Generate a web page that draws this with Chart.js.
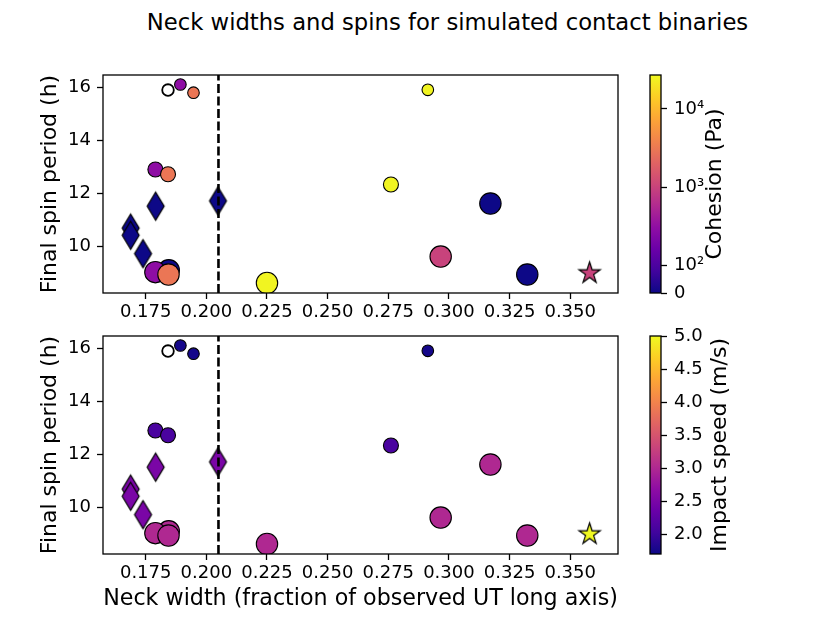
<!DOCTYPE html>
<html>
<head>
<meta charset="utf-8">
<title>Neck widths and spins</title>
<script src="https://cdn.jsdelivr.net/npm/chart.js@4.4.1/dist/chart.umd.min.js"></script>
<style>
  body { margin: 0; background: #fff; }
  #wrap { position: relative; width: 830px; height: 623px; font-family: 'DejaVu Sans', sans-serif; color: #000; }
  #wrap canvas { position: absolute; left: 0; top: 0; }
  .txt { position: absolute; white-space: nowrap; text-align: center; font-size: 22px; line-height: 26px; height: 26px; }
  .cblabel { width: 218px; transform: rotate(-90deg); }
</style>
</head>
<body>
<div id="wrap">
  <div class="txt" style="left:0;width:895px;top:9px;font-size:22.7px">Neck widths and spins for simulated contact binaries</div>
  <canvas id="topChart" width="830" height="623"></canvas>
  <canvas id="bottomChart" width="830" height="623"></canvas>
  <canvas id="cohesionBar" width="830" height="623"></canvas>
  <canvas id="speedBar" width="830" height="623"></canvas>
  <div class="txt cblabel" style="left:605px;top:171px">Cohesion (Pa)</div>
  <div class="txt cblabel" style="left:610px;top:432px">Impact speed (m/s)</div>
</div>
<script>
// simulated runs, same order in both panels
const neckWidth = [0.1842, 0.1893, 0.1947, 0.179, 0.1842, 0.1791, 0.2048, 0.1688, 0.1688, 0.1739,
  0.1845, 0.179, 0.1844, 0.225, 0.2913, 0.2761, 0.3171, 0.2966, 0.3323, 0.358];
const spinPeriod = [15.91, 16.12, 15.81, 12.9, 12.72, 11.51, 11.71, 10.68, 10.41, 9.71,
  9.08, 9.01, 8.92, 8.6, 15.92, 12.33, 11.61, 9.6, 8.92, 9.01];
const cohesion = [null, 300, 3000, 300, 3000, 0, 0, 0, 0, 0,
  0, 300, 3000, 25000, 25000, 25000, 0, 1000, 0, 1000];
const impactSpeed = [null, 1.75, 1.75, 2.1, 2.1, 2.5, 2.5, 2.5, 2.5, 2.5,
  3.0, 3.0, 3.0, 3.0, 1.75, 2.1, 3.0, 3.0, 3.0, 5.0];
const markerType = ["circle", "circle", "circle", "circle", "circle", "diamond", "diamond", "diamond", "diamond", "diamond",
  "circle", "circle", "circle", "circle", "circle", "circle", "circle", "circle", "circle", "star"];
const sizeClass = ["small", "small", "small", "medium", "medium", "large", "large", "large", "large", "large",
  "large", "large", "large", "large", "small", "medium", "large", "large", "large", "large"];

const neckLimit = 0.205;
const xTicks = [0.175, 0.2, 0.225, 0.25, 0.275, 0.3, 0.325, 0.35];
const yTicks = [10, 12, 14, 16];
const cohesionTicks = [0, 100, 1000, 10000];
const speedTicks = [2.0, 2.5, 3.0, 3.5, 4.0, 4.5, 5.0];
const xRange = [0.1574, 0.3697];
const yRange = [8.22, 16.48];
const cohesionRange = [45, 27000];
const speedRange = [1.7, 5.0];

// styles
const radius = { small: 6.3, medium: 8, large: 11.2 };
const plasma = ["#0d0887", "#41049d", "#6a00a8", "#8f0da4", "#b12a90", "#cc4778",
  "#e16462", "#f2844b", "#fca636", "#fcce25", "#f0f921"];

Chart.defaults.font.family = "'DejaVu Sans', sans-serif";
Chart.defaults.font.size = 18;
Chart.defaults.color = "#000";
Chart.defaults.animation = false;
Chart.defaults.events = [];
Chart.defaults.plugins.legend.display = false;
Chart.defaults.plugins.tooltip.enabled = false;

function hexRgb(h) {
  return [1, 3, 5].map((i) => parseInt(h.slice(i, i + 2), 16));
}

function plasmaColor(t) {
  t = Math.min(1, Math.max(0, t)) * (plasma.length - 1);
  const i = Math.min(Math.floor(t), plasma.length - 2);
  const f = t - i;
  const a = hexRgb(plasma[i]), b = hexRgb(plasma[i + 1]);
  return "rgb(" + a.map((v, k) => Math.round(v + (b[k] - v) * f)).join(",") + ")";
}

function cohesionColor(v) {
  if (v === null) return "#ffffff";
  const lo = Math.log10(cohesionRange[0]), hi = Math.log10(cohesionRange[1]);
  return plasmaColor((Math.log10(Math.max(v, cohesionRange[0])) - lo) / (hi - lo));
}

function speedColor(v) {
  if (v === null) return "#ffffff";
  return plasmaColor((v - speedRange[0]) / (speedRange[1] - speedRange[0]));
}

// filled glyphs for the shapes chart.js doesn't have
function glyph(shape, fill) {
  const c = document.createElement("canvas");
  const g = c.getContext("2d");
  if (shape === "diamond") {
    c.width = 21; c.height = 33;
    g.beginPath();
    g.moveTo(10.5, 2.5); g.lineTo(19, 16.5); g.lineTo(10.5, 30.5); g.lineTo(2, 16.5);
  } else {
    c.width = 27; c.height = 27;
    const R = 11.2, r = R * 0.382;
    g.beginPath();
    for (let k = 0; k < 10; k++) {
      const ang = -Math.PI / 2 + k * Math.PI / 5;
      const rr = k % 2 ? r : R;
      g.lineTo(13.5 + rr * Math.cos(ang), 14.5 + rr * Math.sin(ang));
    }
  }
  g.closePath();
  g.fillStyle = fill;
  g.fill();
  g.lineWidth = 1.2;
  g.strokeStyle = "#000";
  g.stroke();
  return c;
}

const frame = {
  id: "frame",
  afterDraw(chart) {
    const a = chart.chartArea, ctx = chart.ctx;
    ctx.save();
    ctx.strokeStyle = "#000";
    ctx.lineWidth = 1.3;
    ctx.strokeRect(a.left, a.top, a.right - a.left, a.bottom - a.top);
    ctx.restore();
  },
};

const tickGrid = { display: true, drawOnChartArea: false, drawTicks: true, tickLength: 6, tickColor: "#000", tickWidth: 1.3 };

function panel(id, colors, pad, xHeight, xTitle) {
  const pts = neckWidth.map((x, i) => ({ x: x, y: spinPeriod[i] }));
  new Chart(document.getElementById(id).getContext("2d"), {
    type: "scatter",
    data: {
      datasets: [
        {
          // dashed limit line, first so it is drawn on top
          data: [{ x: neckLimit, y: yRange[0] }, { x: neckLimit, y: yRange[1] }],
          showLine: true,
          borderColor: "#000",
          borderWidth: 2.6,
          borderDash: [9, 3.5],
          pointRadius: 0,
        },
        {
          data: pts,
          backgroundColor: colors,
          borderColor: "#000",
          borderWidth: colors.map((c, i) => (cohesion[i] === null ? 1.8 : 1.1)),
          pointRadius: sizeClass.map((s) => radius[s] - 0.5),
          pointStyle: markerType.map((m, i) => (m === "circle" ? "circle" : glyph(m, colors[i]))),
        },
      ],
    },
    options: {
      responsive: false,
      layout: { padding: pad },
      scales: {
        x: {
          type: "linear",
          min: xRange[0],
          max: xRange[1],
          grid: tickGrid,
          border: { display: false },
          afterBuildTicks: (s) => { s.ticks = xTicks.map((v) => ({ value: v })); },
          afterFit: (s) => { s.height = xHeight; },
          ticks: { autoSkip: false, maxRotation: 0, padding: 3, callback: (v) => v.toFixed(3) },
          title: {
            display: xTitle,
            text: "Neck width (fraction of observed UT long axis)",
            font: { size: 22.2, lineHeight: 1.2 },
            padding: { top: 0, bottom: 10 },
          },
        },
        y: {
          type: "linear",
          min: yRange[0],
          max: yRange[1],
          grid: tickGrid,
          border: { display: false },
          afterBuildTicks: (s) => { s.ticks = yTicks.map((v) => ({ value: v })); },
          afterFit: (s) => { s.width = 103; },
          ticks: { autoSkip: false, padding: 6 },
          title: {
            display: true,
            text: "Final spin period (h)",
            font: { size: 22, lineHeight: 1.2 },
            padding: { top: 37, bottom: 0 },
          },
        },
      },
    },
    plugins: [frame],
  });
}

const sup = { 2: "\u00b2", 3: "\u00b3", 4: "\u2074" };

function colorbar(id, pad, yScale) {
  new Chart(document.getElementById(id).getContext("2d"), {
    type: "scatter",
    data: { datasets: [] },
    options: {
      responsive: false,
      layout: { padding: pad },
      scales: {
        x: { type: "linear", display: false, min: 0, max: 1 },
        y: Object.assign({
          position: "right",
          grid: tickGrid,
          border: { display: false },
          afterFit: (s) => { s.width = 169; },
        }, yScale),
      },
    },
    plugins: [
      {
        id: "ramp",
        beforeDatasetsDraw(chart) {
          const a = chart.chartArea, ctx = chart.ctx;
          const g = ctx.createLinearGradient(0, a.bottom, 0, a.top);
          plasma.forEach((c, i) => g.addColorStop(i / (plasma.length - 1), c));
          ctx.fillStyle = g;
          ctx.fillRect(a.left, a.top, a.right - a.left, a.bottom - a.top);
        },
      },
      frame,
    ],
  });
}

panel("topChart", cohesion.map(cohesionColor), { left: 0, right: 212, top: 75, bottom: 300 }, 30, false);
panel("bottomChart", impactSpeed.map(speedColor), { left: 0, right: 212, top: 336, bottom: 0 }, 69, true);

colorbar("cohesionBar", { left: 650, right: 0, top: 75, bottom: 330 }, {
  type: "logarithmic",
  min: cohesionRange[0],
  max: cohesionRange[1],
  afterBuildTicks: (s) => { s.ticks = cohesionTicks.map((v) => ({ value: Math.max(v, cohesionRange[0]) })); },
  ticks: {
    autoSkip: false,
    padding: 7,
    callback: (v) => (v <= cohesionRange[0] ? "0" : "10" + sup[Math.round(Math.log10(v))]),
  },
});

colorbar("speedBar", { left: 650, right: 0, top: 336, bottom: 69 }, {
  type: "linear",
  min: speedRange[0],
  max: speedRange[1],
  afterBuildTicks: (s) => { s.ticks = speedTicks.map((v) => ({ value: v })); },
  ticks: { autoSkip: false, padding: 7, callback: (v) => v.toFixed(1) },
});
</script>
</body>
</html>
